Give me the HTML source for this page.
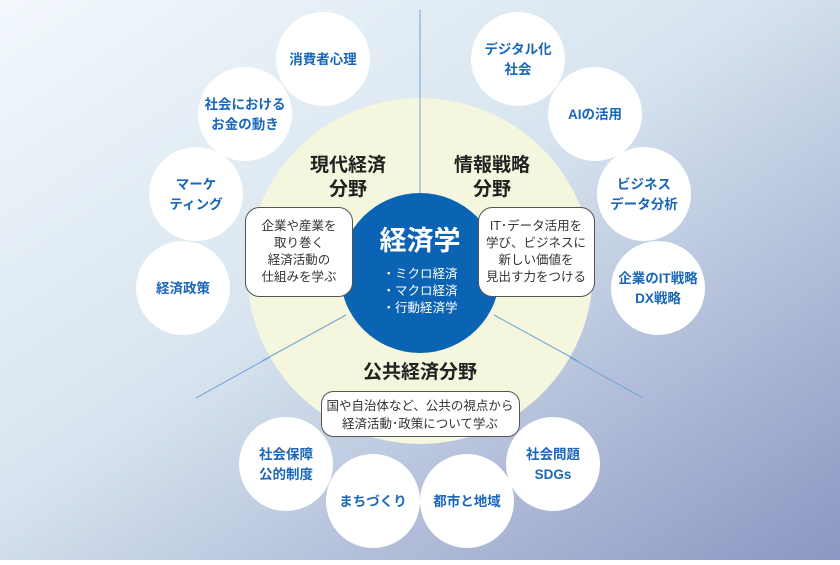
<!DOCTYPE html>
<html><head><meta charset="utf-8"><style>
html,body{margin:0;padding:0}
body{width:840px;height:560px;overflow:hidden;font-family:"Liberation Sans","Noto Sans CJK JP",sans-serif}
</style></head><body>
<svg width="840" height="560" viewBox="0 0 840 560" xmlns="http://www.w3.org/2000/svg" font-family="Liberation Sans, Noto Sans CJK JP, sans-serif">
<defs>
<linearGradient id="bg" x1="0" y1="0" x2="1" y2="1">
<stop offset="0" stop-color="#f2f8fc"/>
<stop offset="0.45" stop-color="#d7e4ef"/>
<stop offset="1" stop-color="#8b96c2"/>
</linearGradient>
</defs>
<rect width="840" height="560" fill="url(#bg)"/>
<g stroke="#6fa3d6" stroke-width="1">
<line x1="420" y1="10" x2="420" y2="195"/>
<line x1="196" y1="398" x2="346" y2="315"/>
<line x1="494" y1="315" x2="643" y2="398"/>
</g>
<circle cx="420" cy="271" r="173" fill="#f4f6dd"/>
<g stroke="#6fa3d6" stroke-width="1">
<line x1="420" y1="98" x2="420" y2="195"/>
<line x1="262" y1="361" x2="346" y2="315"/>
<line x1="494" y1="315" x2="578" y2="361"/>
</g>
<circle cx="420" cy="273" r="80" fill="#0b63b3"/>
<g fill="#fff">
<circle cx="323" cy="59" r="47"/><circle cx="245" cy="114" r="47"/>
<circle cx="196" cy="194" r="47"/><circle cx="183" cy="288" r="47"/>
<circle cx="518" cy="59" r="47"/><circle cx="595" cy="114" r="47"/>
<circle cx="644" cy="194" r="47"/><circle cx="658" cy="288" r="47"/>
<circle cx="286" cy="464" r="47"/><circle cx="373" cy="501" r="47"/>
<circle cx="467" cy="501" r="47"/><circle cx="553" cy="464" r="47"/>
</g>
<g fill="#1a66b8" font-size="13.5" font-weight="bold" text-anchor="middle">
<text x="323" y="64">消費者心理</text>
<text x="245" y="109">社会における</text><text x="245" y="129">お金の動き</text>
<text x="196" y="189">マーケ</text><text x="196" y="209">ティング</text>
<text x="183" y="293">経済政策</text>
<text x="518" y="54">デジタル化</text><text x="518" y="74">社会</text>
<text x="595" y="119">AIの活用</text>
<text x="644" y="189">ビジネス</text><text x="644" y="209">データ分析</text>
<text x="658" y="283">企業のIT戦略</text><text x="658" y="303">DX戦略</text>
<text x="286" y="459">社会保障</text><text x="286" y="479">公的制度</text>
<text x="373" y="506">まちづくり</text>
<text x="467" y="506">都市と地域</text>
<text x="553" y="459">社会問題</text><text x="553" y="479">SDGs</text>
</g>
<g fill="#222" font-size="19" font-weight="bold" text-anchor="middle">
<text x="348" y="171">現代経済</text><text x="348" y="195">分野</text>
<text x="492" y="171">情報戦略</text><text x="492" y="195">分野</text>
<text x="420" y="378">公共経済分野</text>
</g>
<g fill="#fff" stroke="#555" stroke-width="1">
<rect x="245.5" y="207.5" width="107" height="89" rx="14"/>
<rect x="478.5" y="207.5" width="116" height="89" rx="14"/>
<rect x="321.5" y="391.5" width="198" height="45" rx="12"/>
</g>
<g fill="#333" font-size="12.5" text-anchor="middle">
<text x="299" y="230">企業や産業を</text><text x="299" y="247">取り巻く</text>
<text x="299" y="264">経済活動の</text><text x="299" y="281">仕組みを学ぶ</text>
<text x="536" y="230">IT･データ活用を</text><text x="536" y="247">学び、ビジネスに</text>
<text x="536" y="264">新しい価値を</text><text x="536" y="281">見出す力をつける</text>
<text x="420" y="410">国や自治体など、公共の視点から</text>
<text x="420" y="428">経済活動･政策について学ぶ</text>
</g>
<g fill="#fff" text-anchor="middle">
<text x="420" y="250" font-size="27" font-weight="bold">経済学</text>
<text x="420" y="278" font-size="12.5">・ミクロ経済</text>
<text x="420" y="295" font-size="12.5">・マクロ経済</text>
<text x="420" y="312" font-size="12.5">・行動経済学</text>
</g>
</svg>
</body></html>
